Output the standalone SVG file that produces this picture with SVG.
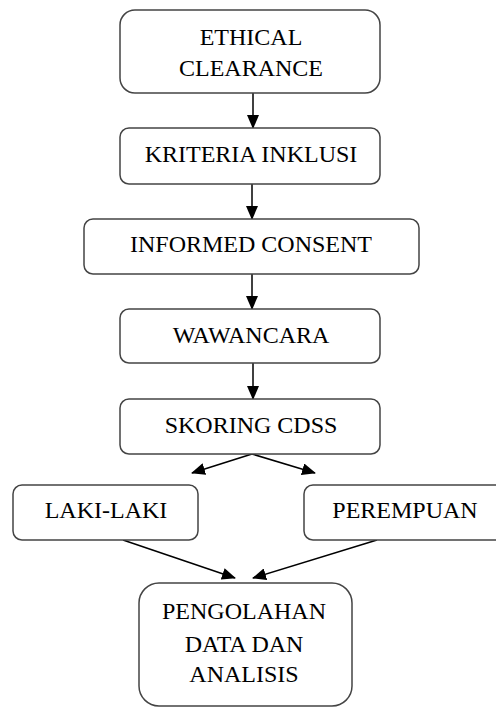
<svg xmlns="http://www.w3.org/2000/svg" width="496" height="708" viewBox="0 0 496 708">
<style>
.box{fill:#fff;stroke:#444;stroke-width:1.5}
.t{font-family:'Liberation Serif','DejaVu Serif',serif;font-size:24px;fill:#000;text-anchor:middle}
.c{stroke:#000;stroke-width:1.5;fill:none;marker-end:url(#ah)}
</style>
<defs>
<marker id="ah" markerWidth="14" markerHeight="12" refX="13" refY="6" orient="auto" markerUnits="userSpaceOnUse">
<path d="M0,0 L14,6 L0,12 Z" fill="#000"/>
</marker>
</defs>
<rect width="496" height="708" fill="#fff"/>
<g id="connectors">
<line class="c" x1="253" y1="93" x2="253" y2="128"/>
<line class="c" x1="252" y1="184" x2="252" y2="219"/>
<line class="c" x1="252" y1="274" x2="252" y2="309"/>
<line class="c" x1="253" y1="363" x2="253" y2="399"/>
<line class="c" x1="252" y1="454" x2="192" y2="473"/>
<line class="c" x1="252" y1="454" x2="315" y2="473"/>
<line class="c" x1="123" y1="540" x2="235" y2="578"/>
<line class="c" x1="377" y1="540" x2="253" y2="578"/>
</g>
<g font-family="Liberation Serif, DejaVu Serif, serif">
<g id="n1"><rect class="box" x="120" y="10" width="260" height="83" rx="15"/><text class="t" x="251" y="45">ETHICAL</text><text class="t" x="251" y="76">CLEARANCE</text></g>
<g id="n2"><rect class="box" x="120" y="128" width="260" height="56" rx="9"/><text class="t" x="251" y="162">KRITERIA INKLUSI</text></g>
<g id="n3"><rect class="box" x="84" y="219" width="335" height="55" rx="9"/><text class="t" x="251" y="252">INFORMED CONSENT</text></g>
<g id="n4"><rect class="box" x="120" y="309" width="260" height="54" rx="9"/><text class="t" x="251" y="343">WAWANCARA</text></g>
<g id="n5"><rect class="box" x="120" y="399" width="260" height="55" rx="9"/><text class="t" x="251" y="433">SKORING CDSS</text></g>
<g id="n6"><rect class="box" x="13" y="485" width="185" height="55" rx="9"/><text class="t" x="106" y="518">LAKI-LAKI</text></g>
<g id="n7"><rect class="box" x="304" y="485" width="202" height="55" rx="9"/><text class="t" x="405" y="518">PEREMPUAN</text></g>
<g id="n8"><rect class="box" x="139" y="583" width="213" height="123" rx="20"/><text class="t" x="244" y="619">PENGOLAHAN</text><text class="t" x="244" y="652">DATA DAN</text><text class="t" x="244" y="682">ANALISIS</text></g>
</g>
</svg>
